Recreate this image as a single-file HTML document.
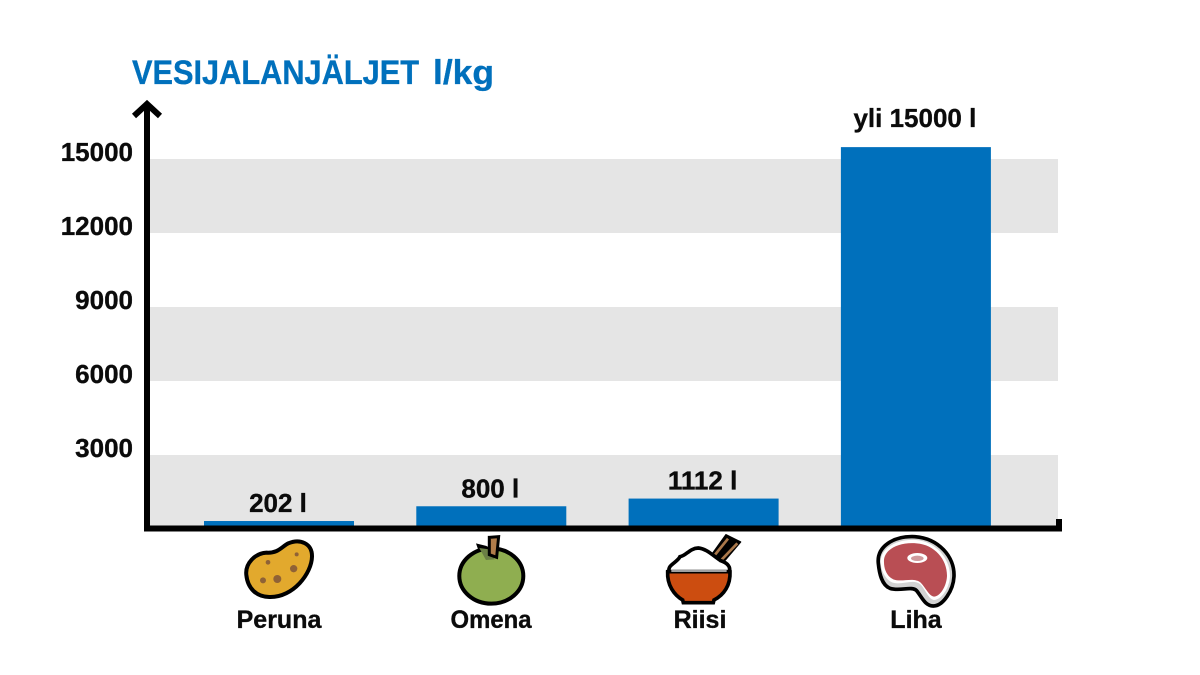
<!DOCTYPE html>
<html lang="fi">
<head>
<meta charset="utf-8">
<title>Vesijalanjäljet</title>
<style>
html,body{margin:0;padding:0;background:#fff;}
svg{display:block;}
text{font-family:"Liberation Sans",sans-serif;font-weight:700;fill:#0b0b0b;stroke:#0b0b0b;stroke-width:.35px;}
</style>
</head>
<body>
<svg id="chart" xmlns="http://www.w3.org/2000/svg" width="1200" height="675" viewBox="0 0 1200 675">
  <rect width="1200" height="675" fill="#fff"/>
  <g id="bands"></g>
  <g id="bars"></g>
  <g id="ticks"></g>
  <g id="values"></g>

  <text y="84" font-size="34" style="fill:#0070BC;stroke:#0070BC"><tspan x="132" textLength="287" lengthAdjust="spacingAndGlyphs">VESIJALANJÄLJET</tspan> <tspan x="433" textLength="61" lengthAdjust="spacingAndGlyphs">l/kg</tspan></text>

  <g fill="none" stroke="#000" stroke-width="6">
    <path d="M147 531V104"/>
    <path d="M134 116L147 104L160 116"/>
    <path d="M144 528.500H1059V519"/>
  </g>

  <g transform="translate(200 520) scale(.3333)">
    <path d="M139 165C135 130 165 100 200 98C235 100 245 80 265 70C300 55 337 70 336 110C335 160 280 232 210 231C170 232 143 205 139 165Z" fill="#E2A92D" stroke="#000" stroke-width="12"/>
    <g fill="#8F6236">
      <circle cx="204" cy="127" r="7"/><circle cx="290" cy="103" r="6"/><circle cx="281" cy="146" r="11"/><circle cx="232" cy="177" r="12"/><circle cx="189" cy="181" r="9"/>
    </g>
  </g>

  <g transform="translate(200 520) scale(.3333)">
    <path d="M828 70L860 78L880 112L845 118Z" fill="#000"/>
    <ellipse cx="874" cy="168" rx="96" ry="83" fill="#8FAE50" stroke="#000" stroke-width="12"/>
    <path d="M838 84L868 88L884 118L858 120Z" fill="#6B7F45"/>
    <path d="M868 52L896 50L890 112L868 104Z" fill="#B07C4A" stroke="#000" stroke-width="9"/>
  </g>

  <g transform="translate(600 520) scale(.3333)">
    <path d="M332 108L378 44L422 66L366 132Z" fill="#000" stroke="#000" stroke-width="4" stroke-linejoin="round"/>
    <g fill="none">
      <path d="M342 108L384 56M362 122L412 70" stroke="#A9774A" stroke-width="8"/>
    </g>
    <path d="M208 155C200 135 232 128 240 110C258 108 268 85 295 84C320 86 340 108 362 122C385 130 392 142 388 155Z" fill="#fff" stroke="#000" stroke-width="11"/>
    <path d="M203 155L390 155C392 195 372 225 342 240L340 248L250 248L248 240C222 225 201 195 203 155Z" fill="#CC4D10" stroke="#000" stroke-width="11"/>
    <path d="M214 153H380" stroke="#fff" stroke-width="4"/>
  </g>

  <g transform="translate(600 520) scale(.3333)">
    <path d="M835 130C830 80 880 47 945 50C1015 55 1065 110 1062 170C1060 210 1030 258 1000 258C975 258 965 230 950 212C935 197 900 215 870 205C845 195 838 160 835 130Z" fill="#D2D2D2" stroke="#000" stroke-width="11"/>
    <path d="M842 125C842 85 890 56 948 60C1008 64 1052 118 1050 170C1048 205 1024 240 1002 240C985 238 975 205 960 192C940 176 905 196 878 188C855 178 842 150 842 125Z" fill="#fff"/>
    <path d="M852 125C850 90 895 65 950 70C1005 74 1043 120 1041 170C1039 200 1020 230 1002 230C987 228 977 203 962 188C942 170 905 188 880 178C862 170 852 150 852 125Z" fill="#B94E54"/>
    <ellipse cx="952" cy="114" rx="30" ry="15" fill="#fff"/>
    <ellipse cx="952" cy="115" rx="19" ry="8" fill="#D09A9D"/>
  </g>

  <g font-size="25" text-anchor="middle">
    <text x="279" y="628" font-size="25">Peruna</text>
    <text x="491" y="628" font-size="25" textLength="81" lengthAdjust="spacingAndGlyphs">Omena</text>
    <text x="700" y="628" font-size="25">Riisi</text>
    <text x="916" y="628" font-size="25">Liha</text>
  </g>
</svg>
<script>
var categories = ['Peruna', 'Omena', 'Riisi', 'Liha'];
var seriesValues = [202, 800, 1112, 15360];
var valueLabels = ['202 l', '800 l', '1112 l', 'yli 15000 l'];
var tickValues = [3000, 6000, 9000, 12000, 15000];
var tickLabels = ['3000', '6000', '9000', '12000', '15000'];

var NS = 'http://www.w3.org/2000/svg';
var plotLeft = 150, plotRight = 1058, baseline = 526, pxPerUnit = 74 / 3000;
var firstBarCenter = 279, barStep = 212.3, barWidth = 150;

function yScale(v) { return baseline - v * pxPerUnit; }
function xScale(i) { return firstBarCenter + i * barStep; }
function make(tag, parentId) {
  var el = document.createElementNS(NS, tag);
  document.getElementById(parentId).appendChild(el);
  return el;
}

tickValues.forEach(function (t, i) {
  var top = yScale(t) + 3;
  if (i % 2 === 0) {
    var band = make('rect', 'bands');
    
    
    band.setAttribute('x', plotLeft);
    band.setAttribute('y', top);
    band.setAttribute('width', plotRight - plotLeft);
    band.setAttribute('height', 74);
    band.setAttribute('fill', '#E5E5E5');
  }

  var label = make('text', 'ticks');
  
  
  label.setAttribute('x', 133);
  label.setAttribute('y', top + 2);
  label.setAttribute('font-size', '26');
  label.setAttribute('text-anchor', 'end');
  label.textContent = tickLabels[i];
});

categories.forEach(function (c, i) {
  var v = seriesValues[i];
  var top = yScale(v);
  var bar = make('rect', 'bars');
  
  
  bar.setAttribute('x', xScale(i) - barWidth / 2);
  bar.setAttribute('y', top);
  bar.setAttribute('width', barWidth);
  bar.setAttribute('height', baseline - top);
  bar.setAttribute('fill', '#0070BC');

  var label = make('text', 'values');
  
  
  label.setAttribute('x', xScale(i) - 1);
  label.setAttribute('y', top - (v > 15000 ? 20 : 9));
  label.setAttribute('font-size', '26');
  label.setAttribute('text-anchor', 'middle');
  label.textContent = valueLabels[i];
});
</script>
</body>
</html>
